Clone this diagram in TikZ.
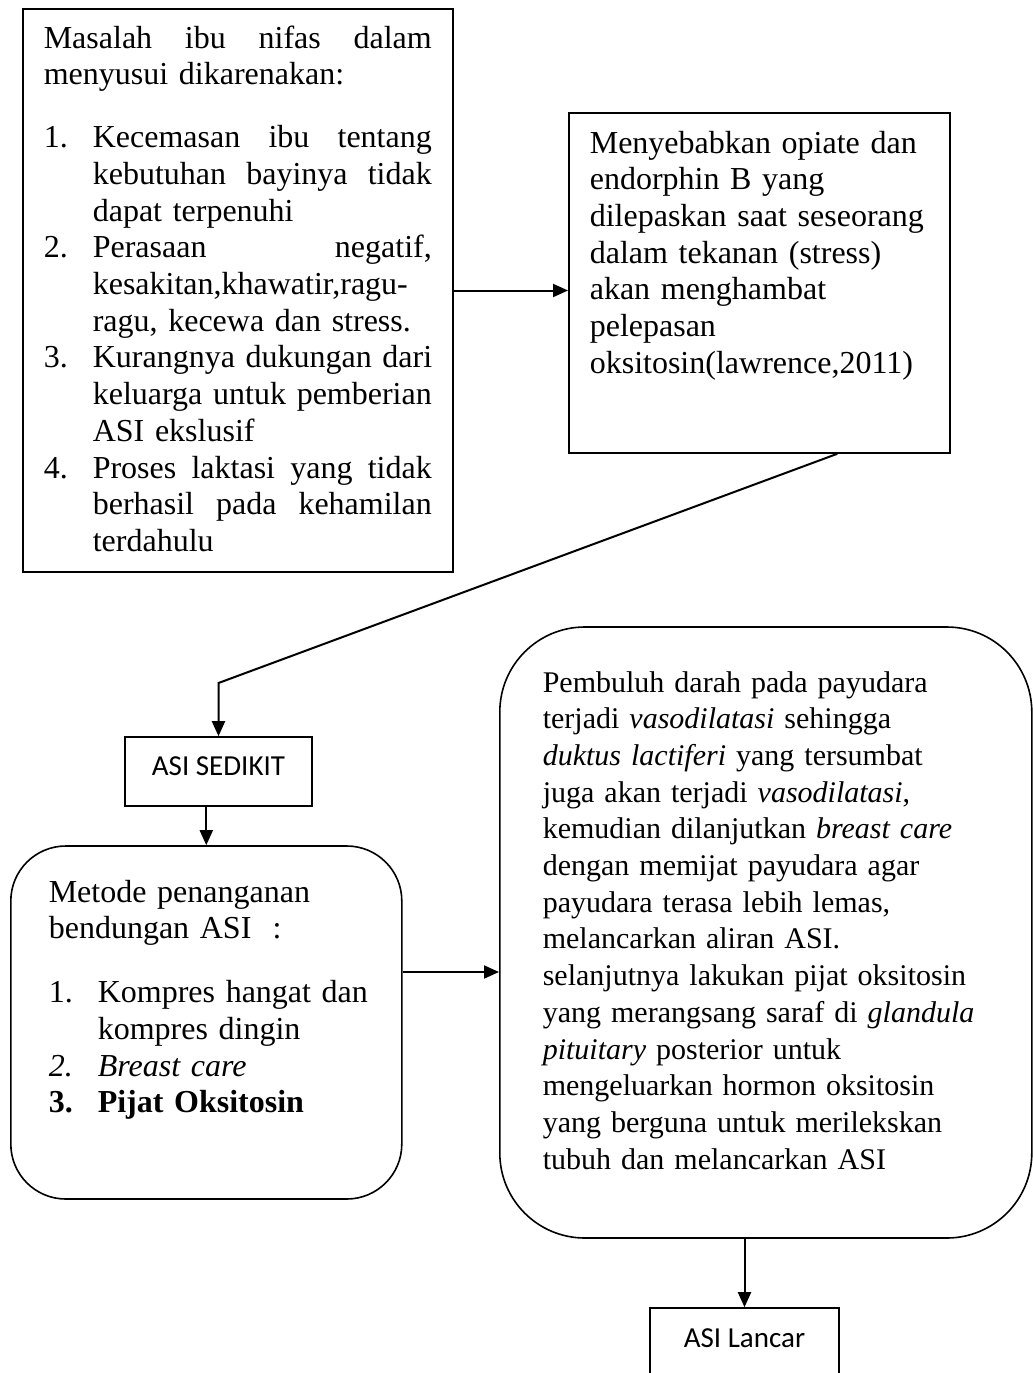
\documentclass[tikz,border=0pt]{standalone}
\usepackage{fontspec}
\setmainfont{Liberation Serif}
\newfontfamily\calibri{Carlito}
\usetikzlibrary{arrows.meta}

% list number slot, hanging gap and justified line
\newcommand{\listno}[1]{\makebox[49pt][l]{#1}}
\newcommand{\listgap}{\hspace*{49pt}}
\newcommand{\fullline}[2]{\hbox to #1{#2}}

\begin{document}
\begin{tikzpicture}[x=1pt,y=-1pt,
		boxtext/.style={draw,line width=1.6pt,inner ysep=0pt,align=left,
			font=\fontsize{32}{36.7}\selectfont},
		smallbox/.style={draw,line width=1.6pt,inner sep=0pt,
			font=\calibri\fontsize{29}{34}\selectfont},
		arr/.style={line width=2pt,-{Triangle[length=15pt,width=13pt]}}]
		
		% Page size
		\useasboundingbox (0,0) rectangle (1033,1373);
		
		% Box with the causes
		\node[boxtext,anchor=base west,text width=388pt,inner xsep=21pt,
			text height=39pt,text depth=524pt] (masalah) at (22,48) {%
			\fullline{388pt}{Masalah \hfill ibu \hfill nifas \hfill dalam}\\
			menyusui dikarenakan:\\[26.3pt]
			\listno{1.}\fullline{339pt}{Kecemasan \hfill ibu \hfill tentang}\\
			\listgap\fullline{339pt}{kebutuhan \hfill bayinya \hfill tidak}\\
			\listgap dapat terpenuhi\\
			\listno{2.}\fullline{339pt}{Perasaan \hfill negatif,}\\
			\listgap kesakitan,khawatir,ragu-\\
			\listgap ragu, kecewa dan stress.\\
			\listno{3.}\fullline{339pt}{Kurangnya \hfill dukungan \hfill dari}\\
			\listgap\fullline{339pt}{keluarga \hfill untuk \hfill pemberian}\\
			\listgap ASI ekslusif\\
			\listno{4.}\fullline{339pt}{Proses \hfill laktasi \hfill yang \hfill tidak}\\
			\listgap\fullline{339pt}{berhasil \hfill pada \hfill kehamilan}\\
			\listgap terdahulu};
		
		% Box with the effect
		\node[boxtext,anchor=base west,text width=339pt,inner xsep=21pt,
			text height=40pt,text depth=300pt] (opiate) at (568,153) {%
			Menyebabkan opiate dan\\
			endorphin B yang\\
			dilepaskan saat seseorang\\
			dalam tekanan (stress)\\
			akan menghambat\\
			pelepasan\\
			oksitosin(lawrence,2011)};
		
		% Small result boxes
		\node[smallbox,anchor=base,minimum width=187pt,
			text height=38pt,text depth=31pt] (sedikit) at (218.5,775) {ASI SEDIKIT};
		\node[smallbox,anchor=base,minimum width=189pt,
			text height=39pt,text depth=40pt] (lancar) at (744.5,1347) {ASI Lancar};
		
		% Rounded box with the methods
		\node[boxtext,rounded corners=55pt,anchor=base west,text width=315pt,
			inner xsep=38pt,text height=56pt,text depth=297pt] (metode) at (10,902) {%
			Metode penanganan\\
			bendungan ASI\ \ :\\[27.3pt]
			\listno{1.}\mbox{Kompres hangat dan}\\
			\listgap kompres dingin\\
			\listno{\itshape 2.}\textit{Breast care}\\
			\listno{\bfseries 3.}\textbf{Pijat Oksitosin}};
		
		% Rounded box with the explanation
		\node[boxtext,font=\fontsize{30}{36.7}\selectfont,rounded corners=85pt,
			anchor=base west,text width=446pt,inner xsep=43pt,
			text height=65pt,text depth=546pt] (pembuluh) at (499,692) {%
			Pembuluh darah pada payudara\\
			terjadi \textit{vasodilatasi} sehingga\\
			\textit{duktus lactiferi} yang tersumbat\\
			juga akan terjadi \textit{vasodilatasi},\\
			kemudian dilanjutkan \textit{breast care}\\
			dengan memijat payudara agar\\
			payudara terasa lebih lemas,\\
			melancarkan aliran ASI.\\
			\mbox{selanjutnya lakukan pijat oksitosin}\\
			\mbox{yang merangsang saraf di \textit{glandula}}\\
			\textit{pituitary} posterior untuk\\
			mengeluarkan hormon oksitosin\\
			yang berguna untuk merilekskan\\
			tubuh dan melancarkan ASI};
		
		% Connectors
		\coordinate (bend) at (sedikit.north |- 0,683);
		\draw[arr] (masalah.east) -- (masalah.east -| opiate.west);
		\draw[arr] ([xshift=78pt]opiate.south) -- (bend) -- (sedikit.north);
		\draw[arr] (sedikit.south -| metode.north) -- (metode.north);
		\draw[arr] (metode.east |- 0,972) -- (pembuluh.west |- 0,972);
		\draw[arr] (lancar.north |- pembuluh.south) -- (lancar.north);
		
	\end{tikzpicture}
\end{document}
